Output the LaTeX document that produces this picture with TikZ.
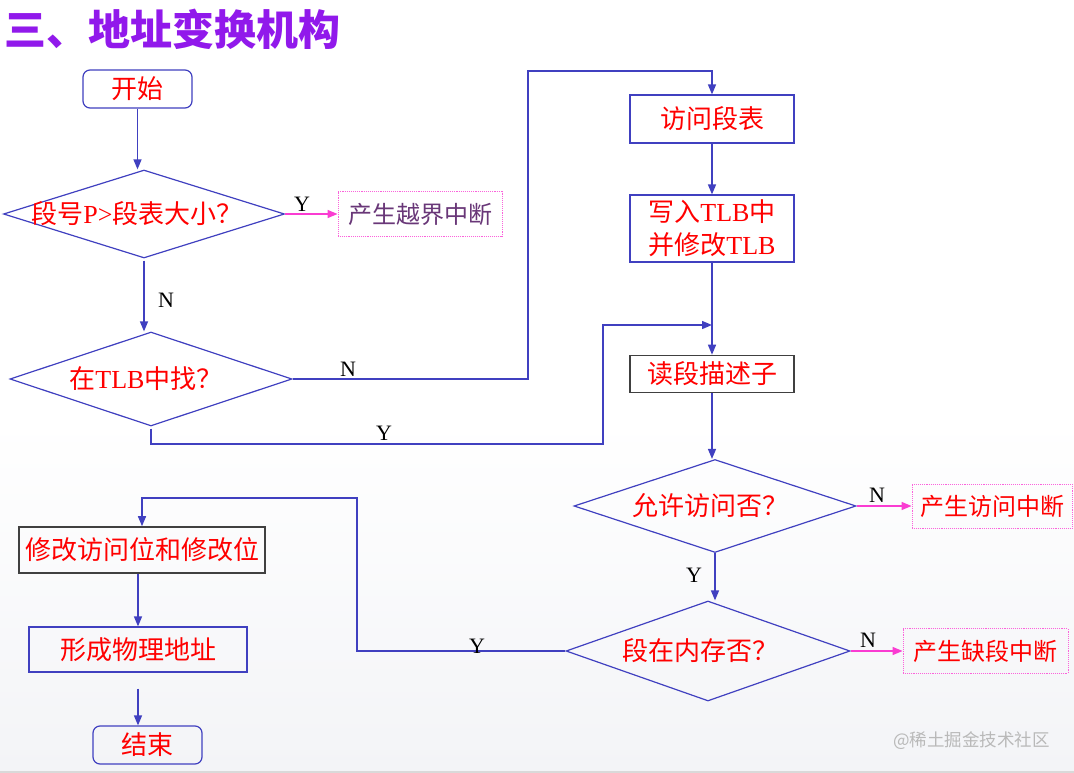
\documentclass[tikz,border=0pt]{standalone}
\usepackage{fontspec}
\usetikzlibrary{arrows.meta,shapes.geometric}
\setmainfont{Liberation Serif}
\newfontfamily\cjk{Noto Sans CJK SC}
\newcommand\zh[1]{{\cjk #1}}
\definecolor{lblue}{RGB}{64,64,192}
\definecolor{mag}{RGB}{250,60,210}
\definecolor{ttl}{RGB}{145,25,235}
\definecolor{ipur}{RGB}{105,55,120}
\begin{document}
\begin{tikzpicture}[x=1pt,y=-1pt,
 ln/.style={draw=lblue, line width=1.4pt},
 arr/.style={ln, -{Triangle[length=10pt,width=8pt]}},
 marr/.style={draw=mag, line width=1.4pt, -{Triangle[length=10pt,width=8pt]}},
 txt/.style={text=red, font=\fontsize{26}{33}\selectfont, inner sep=0pt},
 box/.style={txt, draw=lblue, line width=1.2pt, inner sep=2pt},
 kbox/.style={txt, draw=black!75, line width=1.6pt, inner sep=2pt},
 term/.style={box, rounded corners=7pt},
 ibox/.style={txt, draw=mag!80, densely dotted, line width=0.9pt},
 dia/.style={diamond, draw=lblue, line width=1.2pt, inner sep=0pt},
 yn/.style={text=black, font=\fontsize{22}{24}\selectfont, inner sep=0pt}]
\useasboundingbox (0,0) rectangle (1074,773);
\fill[white] (0,0) rectangle (1074,773);
\shade[top color=white, bottom color={rgb,255:red,243;green,244;blue,247}] (0,420) rectangle (1074,771);
\fill[gray!30] (0,771) rectangle (1074,773);

\node[anchor=west, text=ttl, font=\cjk\bfseries\fontsize{42}{46}\selectfont, inner sep=0pt] (title) at (4,29) {三、地址变换机构};

% left column top
\node[term, minimum width=109pt, minimum height=38pt, font=\cjk\fontsize{26}{33}\selectfont] (start) at (137.5,89) {开始};
\node[dia, minimum width=281pt, minimum height=88pt] (d1) at (144,214) {};
\node[txt] (d1t) at (137,214) {\zh{段号}P>\zh{段表大小？}};
\node[ibox, minimum width=164pt, minimum height=45pt, text=ipur, font=\cjk\fontsize{24}{30}\selectfont] (i1) at (420,214) {产生越界中断};
\node[dia, minimum width=282pt, minimum height=94pt] (d2) at (151,379) {};
\node[txt] (d2t) at (146,379) {\zh{在}TLB\zh{中找？}};

% right column
\node[box, minimum width=164pt, minimum height=48pt, font=\cjk\fontsize{26}{33}\selectfont] (a1) at (712,119) {访问段表};
\node[box, minimum width=164pt, minimum height=67pt, align=center] (a2) at (712,228.5) {\zh{写入}TLB\zh{中}\\\zh{并修改}TLB};
\node[kbox, minimum width=164pt, minimum height=37pt, font=\cjk\fontsize{26}{33}\selectfont] (a3) at (712,374) {读段描述子};
\node[dia, minimum width=282pt, minimum height=93pt] (d3) at (715,506) {};
\node[txt, font=\cjk\fontsize{26}{33}\selectfont] (d3t) at (710,506) {允许访问否？};
\node[ibox, minimum width=160pt, minimum height=44pt, font=\cjk\fontsize{24}{30}\selectfont] (i2) at (992,506) {产生访问中断};
\node[dia, minimum width=284pt, minimum height=100pt] (d4) at (708,651) {};
\node[txt, font=\cjk\fontsize{26}{33}\selectfont] (d4t) at (700,651) {段在内存否？};
\node[ibox, minimum width=165pt, minimum height=45pt, font=\cjk\fontsize{24}{30}\selectfont] (i3) at (985.5,651) {产生缺段中断};

% left column bottom
\node[kbox, minimum width=246pt, minimum height=46pt, font=\cjk\fontsize{26}{33}\selectfont] (b1) at (142,550) {修改访问位和修改位};
\node[box, minimum width=218pt, minimum height=45pt, font=\cjk\fontsize{26}{33}\selectfont] (b2) at (138,649.5) {形成物理地址};
\node[term, minimum width=109pt, minimum height=38pt, font=\cjk\fontsize{26}{33}\selectfont] (end) at (147.5,745) {结束};

% helper coordinates
\coordinate (c1) at (528,71);
\coordinate (j1) at (712,325);
\coordinate (yc) at (603,444);
\coordinate (yc2) at (357,498);

% connectors
\draw[arr] (start.south) -- (start.south |- d1.north);
\draw[marr] (d1.east) -- (i1.west);
\draw[arr] ([yshift=-2pt]d1.south) -- (d1.south |- d2.north);
\draw[arr] (d2.east) -| (c1) -| (a1.north);
\draw[arr] ([yshift=-2pt]d2.south) |- (yc) |- (j1);
\draw[arr] (a1) -- (a2);
\draw[arr] (a2.south) -- (a3.north);
\draw[arr] (a3.south) -- (a3.south |- d3.north);
\draw[marr] (d3.east) -- (i2.west);
\draw[arr] (d3.south) -- (d3.south |- d4.north);
\draw[marr] (d4.east) -- (i3.west);
\draw[arr] (d4.west) -| (yc2) -| (b1.north);
\draw[arr] (b2.north |- b1.south) -- (b2.north);
\draw[arr, shorten <=16pt] (b2.south) -- (b2.south |- end.north);

% Y / N labels
\node[yn] (l1) at (302,204) {Y};
\node[yn] (l2) at (166,300) {N};
\node[yn] (l3) at (348,369) {N};
\node[yn] (l4) at (384,433) {Y};
\node[yn] (l5) at (877,495) {N};
\node[yn] (l6) at (694,575) {Y};
\node[yn] (l7) at (868,640) {N};
\node[yn] (l8) at (477,646) {Y};

\node[anchor=west, text=gray!55, font=\cjk\fontsize{17.5}{20}\selectfont, inner sep=0pt] (wm) at (893,741) {@稀土掘金技术社区};
\end{tikzpicture}
\end{document}
